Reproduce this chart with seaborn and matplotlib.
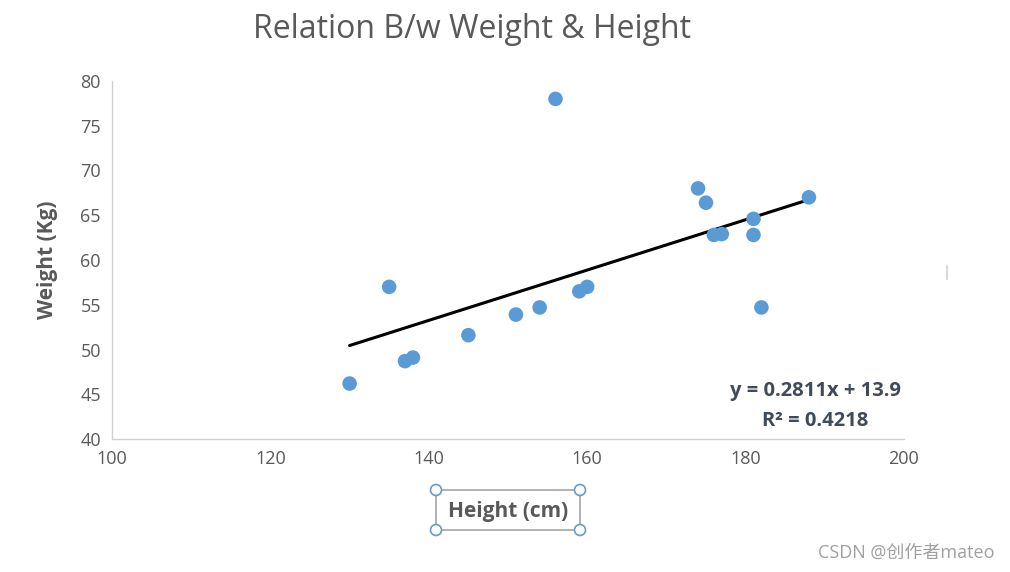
import numpy as np
import pandas as pd
import matplotlib
matplotlib.use("Agg")
import matplotlib.pyplot as plt
import seaborn as sns
from matplotlib.patches import Rectangle, Circle
from matplotlib.lines import Line2D

# ── Data ──────────────────────────────────────────────────────────────────────
height_cm = [130, 135, 137, 138, 145, 151, 154, 156, 159, 160,
             174, 175, 176, 177, 181, 181, 182, 188]
weight_kg = [46.2, 57.0, 48.7, 49.1, 51.6, 53.9, 54.7, 78.0, 56.5, 57.0,
             68.0, 66.4, 62.8, 62.9, 64.6, 62.8, 54.7, 67.0]
TREND_SLOPE = 0.2811
TREND_INTERCEPT = 13.9
R_SQUARED = 0.4218

x_ticks = [100, 120, 140, 160, 180, 200]
y_ticks = [40, 45, 50, 55, 60, 65, 70, 75, 80]

df = pd.DataFrame({"Height": height_cm, "Weight": weight_kg})
trend = pd.DataFrame({"Height": [min(height_cm), max(height_cm)]})
trend["Weight"] = TREND_SLOPE * trend["Height"] + TREND_INTERCEPT

sns.set_style("white")
plt.rcParams["font.family"] = ["Open Sans", "Noto Sans CJK SC", "DejaVu Sans"]

GREY = "#595959"
fig = plt.figure(figsize=(10.10, 5.72), dpi=100)
ax = fig.add_axes([0.1109, 0.2325, 0.7841, 0.6259])

sns.scatterplot(data=df, x="Height", y="Weight", ax=ax, s=110,
                color="#5B9BD5", edgecolor="none", zorder=3)
sns.lineplot(data=trend, x="Height", y="Weight", ax=ax, color="black",
             lw=2.2, zorder=2)

ax.set_xlim(100, 200)
ax.set_ylim(40, 80)
ax.set_xticks(x_ticks)
ax.set_yticks(y_ticks)
ax.tick_params(axis="both", length=0, labelsize=13, labelcolor=GREY, pad=8)
ax.set_xlabel("")
ax.set_ylabel("Weight (Kg)", fontsize=15, fontweight="bold", color=GREY, labelpad=16)
for side in ["top", "right"]:
    ax.spines[side].set_visible(False)
for side in ["left", "bottom"]:
    ax.spines[side].set_color("#d0d0d0")
    ax.spines[side].set_linewidth(1.0)

fig.text(472 / 1010, 1 - 30 / 572, "Relation B/w Weight & Height",
         ha="center", va="center", fontsize=23, color=GREY)

# trendline label
eq_col = "#404a58"
fig.text(815 / 1010, 1 - 391 / 572, f"y = {TREND_SLOPE}x + {TREND_INTERCEPT}",
         ha="center", va="center", fontsize=14.5, fontweight="bold", color=eq_col)
fig.text(815 / 1010, 1 - 421 / 572, f"R² = {R_SQUARED}",
         ha="center", va="center", fontsize=14.5, fontweight="bold", color=eq_col)

# selected x-axis title with handles
bx0, bx1, by0, by1 = 436 / 1010, 580 / 1010, 1 - 530 / 572, 1 - 490 / 572
fig.patches.append(Rectangle((bx0, by0), bx1 - bx0, by1 - by0, transform=fig.transFigure,
                             fill=False, edgecolor="#a6a6a6", lw=1.2))
for cx in (bx0, bx1):
    for cy in (by0, by1):
        fig.patches.append(Circle((cx * 1010, cy * 572), 5.5, transform=None,
                                  facecolor="white", edgecolor="#6a9cc8", lw=1.2, zorder=5))
fig.text((bx0 + bx1) / 2, 1 - 512 / 572, "Height (cm)", ha="center", va="center",
         fontsize=15, fontweight="bold", color=GREY)

fig.lines.append(Line2D([947 / 1010, 947 / 1010], [1 - 266 / 572, 1 - 279 / 572],
                        transform=fig.transFigure, color="#d9d9d9", lw=1.5))

fig.text(995 / 1010, 1 - 553 / 572, "CSDN @创作者mateo", ha="right", va="center",
         fontsize=13, color="#a0a0a0")

fig.savefig("out.png", dpi=100)
